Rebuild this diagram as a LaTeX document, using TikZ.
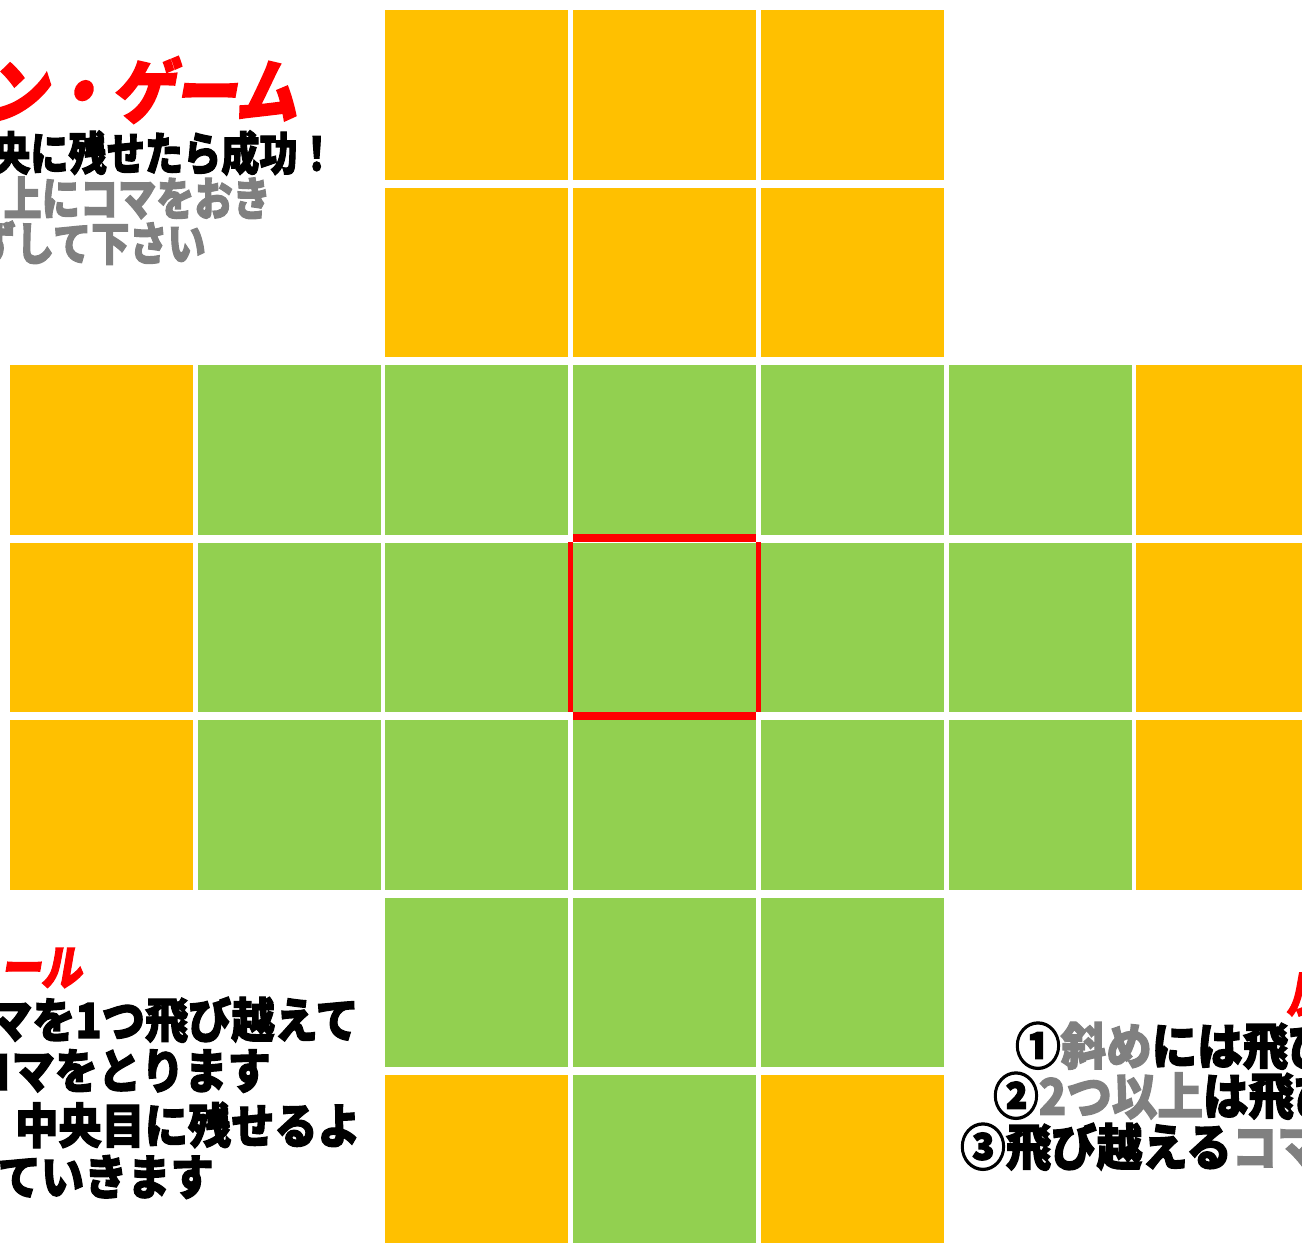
\documentclass[tikz,border=0pt]{standalone}
\usepackage{fontspec}
\newfontfamily\jp{Noto Sans CJK JP}[BoldFeatures={FakeBold=2.5}]
\newfontfamily\jpsl{Noto Sans CJK JP}[FakeSlant=0.2,BoldFeatures={FakeBold=2.5,FakeSlant=0.2}]
\definecolor{cellorange}{HTML}{FFC000}
\definecolor{cellgreen}{HTML}{92D050}
\definecolor{txtgray}{HTML}{808080}
\definecolor{txtred}{HTML}{FF0000}
\newcommand\sqz[2]{\scalebox{#1}[1]{#2}}
\begin{document}
\begin{tikzpicture}[x=1pt,y=-1pt,
  cell/.style={inner sep=0pt,minimum width=183pt,minimum height=169.5pt},
  redbar/.style={fill=txtred},
  ttl/.style={inner sep=0pt,text=txtred,font=\jpsl\bfseries\fontsize{70}{70}\selectfont},
  sub/.style={inner sep=0pt,font=\jpsl\bfseries\fontsize{48}{48}\selectfont},
  body/.style={inner sep=0pt,font=\jp\bfseries\fontsize{46}{46}\selectfont},
  bodyb/.style={inner sep=0pt,font=\jp\bfseries\fontsize{48}{48}\selectfont},
  bodyr/.style={inner sep=0pt,font=\jp\bfseries\fontsize{50}{50}\selectfont}]
\useasboundingbox (0,0) rectangle (1302,1243);
\clip (0,0) rectangle (1302,1243);
% cells
\foreach \c/\r/\col in {2/0/cellorange,3/0/cellorange,4/0/cellorange,
  2/1/cellorange,3/1/cellorange,4/1/cellorange,
  0/2/cellorange,1/2/cellgreen,2/2/cellgreen,3/2/cellgreen,4/2/cellgreen,5/2/cellgreen,6/2/cellorange,
  0/3/cellorange,1/3/cellgreen,2/3/cellgreen,3/3/cellgreen,4/3/cellgreen,5/3/cellgreen,6/3/cellorange,
  0/4/cellorange,1/4/cellgreen,2/4/cellgreen,3/4/cellgreen,4/4/cellgreen,5/4/cellgreen,6/4/cellorange,
  2/5/cellgreen,3/5/cellgreen,4/5/cellgreen,
  2/6/cellorange,3/6/cellgreen,4/6/cellorange}
  \node[cell,fill=\col] (c\c\r) at ({101.5+187.7*\c},{94.75+177.5*\r}) {};
% red frame around centre cell
\fill[redbar] (c33.north west) ++(0,-8.5) rectangle (c33.north east);
\fill[redbar] (c33.south west) rectangle ([yshift=-8pt]c33.south east);
\fill[redbar] ([xshift=-5pt]c33.north west) rectangle (c33.south west);
\fill[redbar] (c33.north east) rectangle ([xshift=5pt]c33.south east);
% top-left texts
\node[ttl,anchor=east] (t1) at (298,90) {\sqz{0.9}{ン・ゲーム}};
\node[body,anchor=east] (t2) at (336,153) {\sqz{0.83}{央に残せたら成功！}};
\node[body,anchor=east,text=txtgray] (t3) at (271,198) {\sqz{0.83}{上にコマをおき}};
\node[body,anchor=east,text=txtgray] (t4) at (206,243) {\sqz{0.83}{ずして下さい}};
% bottom-left texts
\node[sub,anchor=east,text=txtred] (b1) at (82,968) {\sqz{0.85}{ール}};
\node[bodyb,anchor=east] (b2) at (359,1020) {\sqz{0.9}{マを1つ飛び越えて}};
\node[bodyb,anchor=east] (b3) at (271,1071) {\sqz{0.9}{コマをとります}};
\node[bodyb,anchor=east] (b4) at (361,1125) {\sqz{0.9}{中央目に残せるよ}};
\node[bodyb,anchor=east] (b5) at (214,1177) {\sqz{0.9}{ていきます}};
% bottom-right texts
\node[sub,anchor=west,text=txtred] (r0) at (1286,994) {\sqz{0.9}{反則}};
\node[bodyr,anchor=west] (r1) at (1015,1046) {\sqz{0.91}{①\textcolor{txtgray}{斜め}には飛び}};
\node[bodyr,anchor=west] (r2) at (993,1096) {\sqz{0.91}{②\textcolor{txtgray}{2つ以上}は飛び}};
\node[bodyr,anchor=west] (r3) at (960,1147) {\sqz{0.91}{③飛び越える\textcolor{txtgray}{コマ}}};
\end{tikzpicture}
\end{document}
